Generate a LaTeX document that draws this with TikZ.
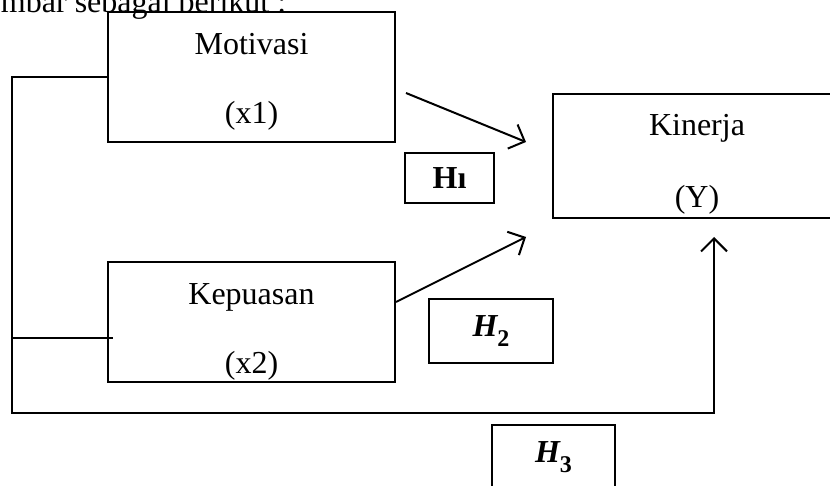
\documentclass[tikz,border=0pt]{standalone}
\usepackage{fontspec}
\setmainfont{Liberation Serif}
\usetikzlibrary{arrows.meta}
\newcommand{\hyplabel}[1]{{\bfseries\itshape H}\raisebox{-0.3em}{\fontsize{24}{24}\selectfont\bfseries #1}}

\begin{document}
\begin{tikzpicture}[x=1pt,y=1pt,line width=2pt,
    box/.style={draw,rectangle,inner sep=0pt,align=center,font=\fontsize{32}{38}\selectfont},
    hbox/.style={draw,rectangle,inner sep=0pt,font=\fontsize{32}{38}\selectfont},
    arr/.style={-{Straight Barb[length=13pt,width=26pt]}}]
  \useasboundingbox (0,0) rectangle (830,485);
  \clip (0,0) rectangle (830,485);
  \node [anchor=base west,inner sep=0pt,font=\fontsize{32}{38}\selectfont] (intro) at (0,472) {mbar sebagai berikut :};
  % variables
  \node [box,minimum width=287,minimum height=130] (mot) at (251.5,408) {\rule{0pt}{30pt}Motivasi\\[31pt](x1)};
  \node [box,minimum width=287,minimum height=120] (kep) at (251.5,163) {\rule{0pt}{40pt}Kepuasan\\[31pt](x2)};
  \node [box,minimum width=288,minimum height=124] (kin) at (697,329) {\rule{0pt}{38pt}Kinerja\\[34pt](Y)};
  % hypotheses
  \node [hbox,minimum width=89,minimum height=50] (h1) at (449.5,307) {\bfseries Hı};
  \node [hbox,minimum width=124,minimum height=64] (h2) at (491,154) {\hyplabel{2}};
  \node [hbox,minimum width=123,minimum height=64] (h3) at (553.5,28) {\hyplabel{3}};
  % connectors
  \coordinate (a1s) at (406,392);
  \coordinate (a1e) at (526,343);
  \coordinate (a2s) at ([yshift=20pt]kep.east);
  \coordinate (a2e) at (526,248);
  \coordinate (left) at (12,72);
  \coordinate (a3e) at (714,248);
  \coordinate (kjoin) at (113,147);
  \draw [arr] (a1s) -- (a1e);
  \draw [arr] (a2s) -- (a2e);
  \draw [arr] (mot.west) -| (left) -| (a3e);
  \draw (left |- kjoin) -- (kjoin);
\end{tikzpicture}
\end{document}
